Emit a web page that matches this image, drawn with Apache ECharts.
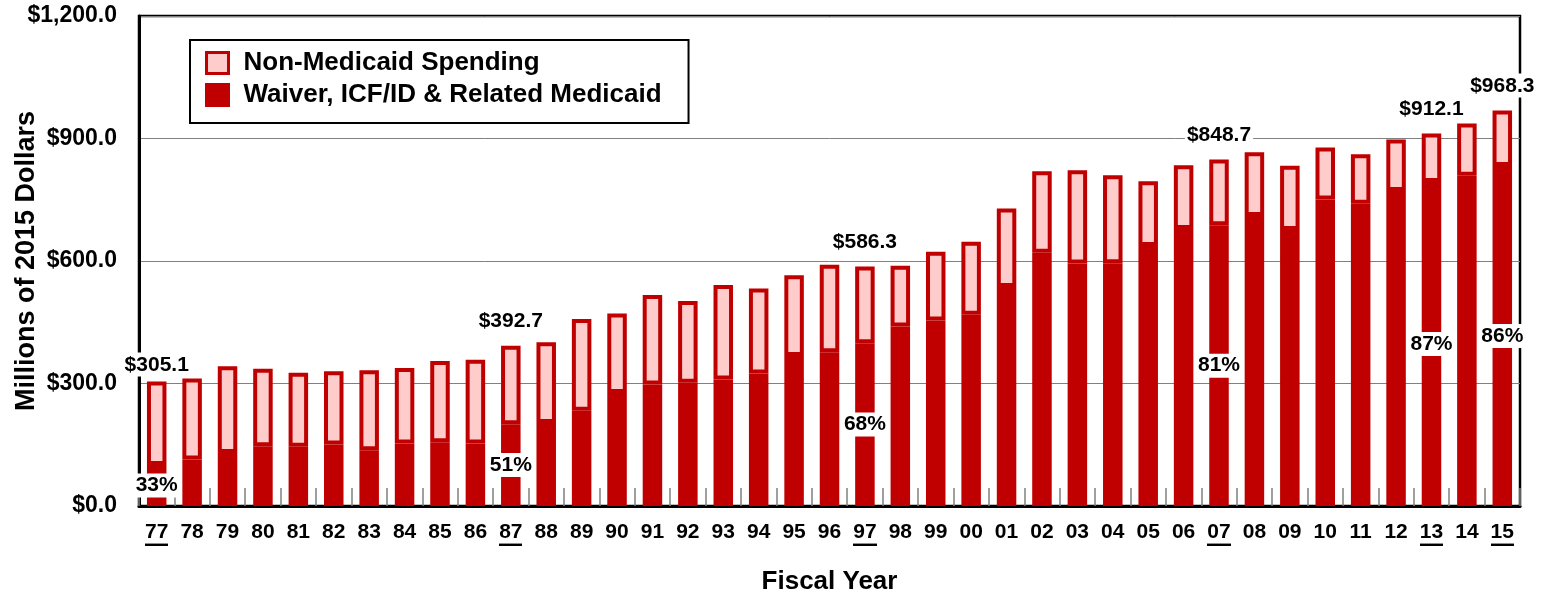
<!DOCTYPE html>
<html>
<head>
<meta charset="utf-8">
<script src="https://cdn.jsdelivr.net/npm/echarts@6/dist/echarts.min.js"></script>
<style>
  html, body { margin: 0; padding: 0; background: #fff; }
  #chart { width: 1551px; height: 595px; }
</style>
</head>
<body>
<div id="chart"></div>
<script>
// fiscal years 77 .. 15
const years = ['77','78','79','80','81','82','83','84','85','86','87','88','89','90','91','92','93','94','95','96','97','98','99',
  '00','01','02','03','04','05','06','07','08','09','10','11','12','13','14','15'];
// total spending, millions of 2015 dollars
const totals = [305.1, 312.5, 342.0, 336.1, 326.3, 329.7, 332.2, 337.8, 355.1, 358.3, 392.7, 401.1, 457.8, 471.6, 516.6, 502.1,
  541.5, 532.4, 565.1, 590.7, 586.3, 588.3, 622.7, 647.4, 728.6, 819.7, 822.2, 809.9, 795.1, 834.5, 848.7, 866.5, 833.5,
  877.9, 861.6, 897.6, 912.1, 937.0, 968.3];
// waiver, ICF/ID & related medicaid part
const medicaid = [100.7, 113.8, 130.0, 146.5, 144.8, 150.7, 136.7, 153.2, 156.4, 153.2, 200.3, 203.1, 233.4, 277.0, 297.5, 301.6,
  309.8, 324.5, 367.4, 376.3, 398.7, 439.5, 454.3, 468.3, 536.3, 620.0, 593.9, 594.7, 636.5, 678.4, 687.4, 710.4, 675.9,
  750.6, 740.0, 771.2, 793.5, 808.9, 832.7];
// years with labels + underlined tick
const markedYears = ['77','87','97','07','13','15'];
const yTicks = [0, 300, 600, 900, 1200];

const RED = '#C00000';
const PINK = '#FFCCCC';
const FONT = 'Liberation Sans, Arial, sans-serif';

// small image used as underline under marked year labels
const uline = document.createElement('canvas');
uline.width = 4; uline.height = 29;
const ctx = uline.getContext('2d');
ctx.fillStyle = '#000';
ctx.fillRect(0, 26, 4, 3);

const chart = echarts.init(document.getElementById('chart'));

const medData = medicaid.map((v, i) => {
  const item = { value: v };
  if (markedYears.includes(years[i])) item.label = { show: true };
  return item;
});
const restData = totals.map((t, i) => {
  const item = { value: +(t - medicaid[i]).toFixed(1) };
  if (markedYears.includes(years[i])) {
    item.label = { show: true, distance: i === 0 ? 5 : 13 };
  }
  return item;
});

const labelBox = {
  color: '#000', fontFamily: FONT, fontWeight: 'bold', fontSize: 21,
  backgroundColor: '#fff', padding: [2, 2, 1, 2]
};
const tickFont = { color: '#000', fontFamily: FONT, fontWeight: 'bold', fontSize: 21, lineHeight: 26, padding: [0, 0, 3, 0] };

let option = {
  animation: false,
  grid: {
    left: 139, right: 31, top: 16, bottom: 89,
    outerBoundsMode: 'none',
    show: true, borderColor: '#000', borderWidth: 2.5
  },
  legend: {
    left: 190, top: 40,
    orient: 'vertical',
    icon: 'rect',
    data: ['Non-Medicaid Spending', 'Waiver, ICF/ID & Related Medicaid'],
    itemWidth: 22, itemHeight: 21, itemGap: 6,
    padding: [10, 27, 15, 15],
    borderColor: '#000', borderWidth: 2, backgroundColor: '#fff',
    itemStyle: { borderWidth: 3, borderColor: RED },
    textStyle: { color: '#000', fontFamily: FONT, fontWeight: 'bold', fontSize: 26, padding: [0, 0, 0, 10] }
  },
  xAxis: {
    type: 'category',
    data: years,
    name: 'Fiscal Year',
    nameLocation: 'middle',
    nameGap: 63,
    nameMoveOverlap: false,
    nameTextStyle: { color: '#000', fontFamily: FONT, fontWeight: 'bold', fontSize: 26 },
    axisLine: { lineStyle: { color: '#000', width: 3 } },
    axisTick: { show: true, inside: true, length: 18, interval: 0, lineStyle: { color: '#808080', width: 1.5 } },
    axisLabel: {
      interval: 0, margin: 15,
      formatter: (v) => markedYears.includes(v) ? '{u|' + v + '}' : '{n|' + v + '}',
      rich: {
        n: tickFont,
        u: Object.assign({ backgroundColor: { image: uline } }, tickFont)
      }
    }
  },
  yAxis: {
    type: 'value',
    min: yTicks[0], max: yTicks[yTicks.length - 1], interval: 300,
    name: 'Millions of 2015 Dollars',
    nameLocation: 'middle',
    nameGap: 99,
    nameMoveOverlap: false,
    nameTextStyle: { color: '#000', fontFamily: FONT, fontWeight: 'bold', fontSize: 27 },
    axisLine: { show: true, lineStyle: { color: '#000', width: 3 } },
    axisTick: { show: false },
    axisLabel: {
      margin: 22, color: '#000', fontFamily: FONT, fontWeight: 'bold', fontSize: 23,
      formatter: (v) => '$' + v.toLocaleString('en-US', { minimumFractionDigits: 1, maximumFractionDigits: 1 })
    },
    splitLine: { lineStyle: { color: '#808080', width: 1 } }
  },
  series: [
    {
      name: 'Waiver, ICF/ID & Related Medicaid',
      type: 'bar',
      stack: 'total',
      barWidth: 19.5,
      data: medData,
      itemStyle: { color: RED, borderColor: RED, borderWidth: 4 },
      label: Object.assign({
        show: false, position: 'inside',
        formatter: (p) => Math.round(medicaid[p.dataIndex] / totals[p.dataIndex] * 100) + '%'
      }, labelBox)
    },
    {
      name: 'Non-Medicaid Spending',
      type: 'bar',
      stack: 'total',
      barWidth: 19.5,
      data: restData,
      itemStyle: { color: PINK, borderColor: RED, borderWidth: 4 },
      label: Object.assign({
        show: false, position: 'top',
        formatter: (p) => '$' + totals[p.dataIndex].toFixed(1)
      }, labelBox)
    }
  ]
};
chart.setOption(option);
</script>
</body>
</html>
